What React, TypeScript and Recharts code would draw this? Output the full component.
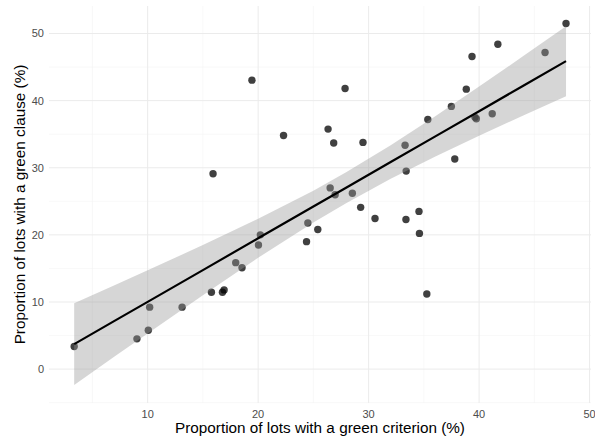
import {
  Area,
  CartesianGrid,
  ComposedChart,
  Label,
  Line,
  Scatter,
  XAxis,
  YAxis,
} from "recharts";

// observed lots (x: green criterion %, y: green clause %)
const criterionPct = [
  3.35, 9.03, 10.06, 10.18, 13.12, 15.77, 16.77, 16.92, 17.97, 18.54, 20.03, 20.2,
  15.92, 19.44, 22.3, 27.87, 26.33, 26.84, 29.49, 33.3, 33.4, 35.36, 26.52, 26.97,
  28.53, 29.28, 30.58, 33.38, 34.56, 24.5, 25.4, 24.38, 34.6, 35.27, 47.87, 45.97,
  41.7, 39.36, 38.84, 37.49, 39.63, 39.75, 41.19, 37.8,
];
const clausePct = [
  3.36, 4.51, 5.8, 9.23, 9.23, 11.46, 11.46, 11.8, 15.86, 15.1, 18.5, 20.0,
  29.1, 43.05, 34.8, 41.8, 35.76, 33.68, 33.78, 33.35, 29.5, 37.2, 27.0, 25.98,
  26.19, 24.1, 22.45, 22.3, 23.5, 21.77, 20.8, 18.99, 20.22, 11.2, 51.49, 47.17,
  48.4, 46.58, 41.71, 39.14, 37.54, 37.29, 38.04, 31.3,
];

// fitted line and confidence band
const bandX = [3.35, 7, 10, 15, 20, 25, 28, 32, 36, 40, 44, 47.87];
const fitY = [3.72, 7.18, 10.02, 14.75, 19.49, 24.22, 27.06, 30.85, 34.64, 38.43, 42.22, 45.88];
const bandLow = [-2.38, 1.86, 5.32, 11.02, 16.59, 21.85, 24.76, 28.36, 31.65, 34.77, 37.8, 40.67];
const bandHigh = [9.82, 12.5, 14.72, 18.48, 22.39, 26.59, 29.36, 33.34, 37.63, 42.09, 46.64, 51.09];

const xTicks = [10, 20, 30, 40, 50];
const yTicks = [0, 10, 20, 30, 40, 50];
const xMinor = [5, 15, 25, 35, 45];
const yMinor = [-5, 5, 15, 25, 35, 45];
const xDomain = [1.07, 50.13];
const yDomain = [-5.05, 54.1];

const points = criterionPct.map((x, i) => ({ x, y: clausePct[i] }));
const band = bandX.map((x, i) => ({ x, fit: fitY[i], lo: bandLow[i], hi: bandHigh[i] }));

const font = "'Liberation Sans', Arial, sans-serif";

// minor grid positions from the plot offset and the fixed domains
function minorX({ offset }: any) {
  return xMinor.map(
    (v) => offset.left + ((v - xDomain[0]) / (xDomain[1] - xDomain[0])) * offset.width
  );
}
function minorY({ offset }: any) {
  return yMinor.map(
    (v) => offset.top + ((yDomain[1] - v) / (yDomain[1] - yDomain[0])) * offset.height
  );
}

export default function App() {
  return (
    <div style={{ position: "absolute", left: 0, top: 0 }}>
      <ComposedChart
        width={595}
        height={443}
        data={band}
        margin={{ top: 6, right: 4, bottom: 0, left: 0 }}
        style={{ fontFamily: font }}
      >
        <CartesianGrid
          stroke="#f4f4f4"
          strokeWidth={0.6}
          verticalCoordinatesGenerator={minorX}
          horizontalCoordinatesGenerator={minorY}
        />
        <CartesianGrid stroke="#ebebeb" strokeWidth={1} syncWithTicks />
        <XAxis
          dataKey="x"
          type="number"
          domain={xDomain}
          allowDataOverflow
          ticks={xTicks}
          axisLine={false}
          tickLine={false}
          tickSize={0}
          tickMargin={7}
          height={40}
          tick={{ fill: "#4d4d4d", fontSize: 11 }}
        >
          <Label
            content={({ viewBox }: any) => (
              <text
                x={viewBox.x + viewBox.width / 2}
                y={viewBox.y + 29.5}
                textAnchor="middle"
                fontSize={15.3}
                fill="#000"
              >
                Proportion of lots with a green criterion (%)
              </text>
            )}
          />
        </XAxis>
        <YAxis
          type="number"
          domain={yDomain}
          allowDataOverflow
          ticks={yTicks}
          axisLine={false}
          tickLine={false}
          tickSize={0}
          tickMargin={5}
          width={49}
          tick={{ fill: "#4d4d4d", fontSize: 11 }}
        >
          <Label
            content={({ viewBox }: any) => {
              const cx = 25;
              const cy = viewBox.y + viewBox.height / 2;
              return (
                <text
                  x={cx}
                  y={cy}
                  transform={`rotate(-90, ${cx}, ${cy})`}
                  textAnchor="middle"
                  fontSize={15.3}
                  fill="#000"
                >
                  Proportion of lots with a green clause (%)
                </text>
              );
            }}
          />
        </YAxis>
        <Scatter
          data={points}
          dataKey="y"
          isAnimationActive={false}
          zIndex={50}
          shape={(p: any) => (
            <circle cx={p.cx} cy={p.cy} r={3.7} fill="#000" fillOpacity={0.75} />
          )}
        />
        <Area
          dataKey={(d: any) => [d.lo, d.hi]}
          type="linear"
          stroke="none"
          fill="#999999"
          fillOpacity={0.4}
          isAnimationActive={false}
          activeDot={false}
          zIndex={100}
        />
        <Line
          dataKey="fit"
          type="linear"
          stroke="#000"
          strokeWidth={2.2}
          dot={false}
          activeDot={false}
          isAnimationActive={false}
          zIndex={400}
        />
      </ComposedChart>
    </div>
  );
}
